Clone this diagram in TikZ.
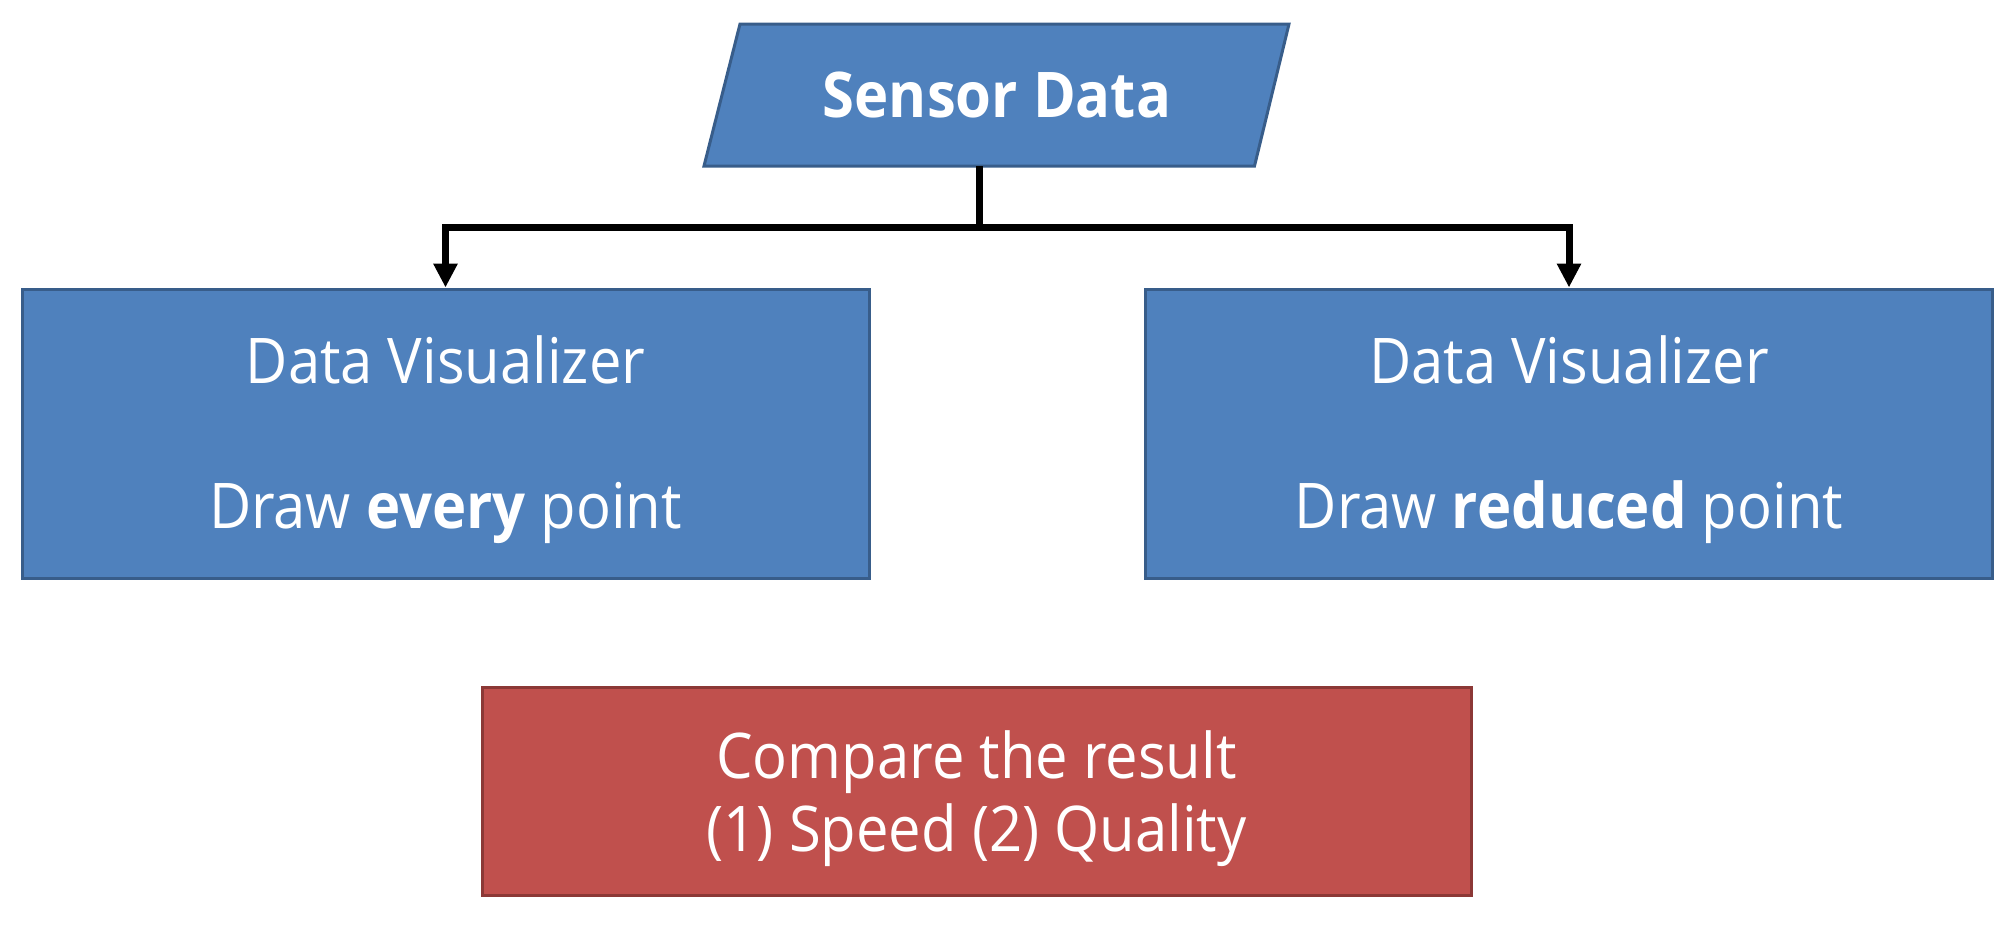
\documentclass[tikz,border=0pt]{standalone}
\usepackage{fontspec}
\setmainfont[FakeStretch=0.92]{Open Sans}
\usetikzlibrary{arrows.meta}
\definecolor{bfill}{HTML}{4F81BD}
\definecolor{bline}{HTML}{385D8A}
\definecolor{rfill}{HTML}{C0504D}
\definecolor{rline}{HTML}{8C3836}
\tikzset{
  bluebox/.style={draw=bline, fill=bfill, line width=3pt, rectangle, inner sep=0pt},
  redbox/.style={draw=rline, fill=rfill, line width=3pt, rectangle, inner sep=0pt},
  txt/.style={text=white, anchor=base, inner sep=0pt, font=\fontsize{63}{76}\selectfont},
  conn/.style={draw=black, line width=7pt, line join=miter},
  arr/.style={conn, -{Triangle[width=23pt,length=24pt]}},
}
\begin{document}
\begin{tikzpicture}[x=1pt,y=-1pt]
\useasboundingbox (0,0) rectangle (2016,924);
% Sensor Data parallelogram
\path[draw=bline, fill=bfill, line width=3pt] (740,24) -- (1289,24) -- (1254.5,166) -- (704,166) -- cycle;
\node[txt, font=\fontsize{63}{76}\selectfont\bfseries] (sd) at (997,117) {Sensor Data};
\coordinate (sdb) at (979.3,166);
\coordinate (jn) at (979.3,227);
% boxes
\node[bluebox, minimum width=847pt, minimum height=289pt] (vl) at (445.5,433.5) {};
\node[bluebox, minimum width=847pt, minimum height=289pt] (vr) at (1569,433.5) {};
\node[redbox, minimum width=989pt, minimum height=208pt] (cmp) at (976.5,791) {};
% texts
\node[txt] (vl1) at (445.5,383) {Data Visualizer};
\node[txt] (vl2) at (445.5,528) {Draw \textbf{every} point};
\node[txt] (vr1) at (1569,383) {Data Visualizer};
\node[txt] (vr2) at (1569,528) {Draw \textbf{reduced} point};
\node[txt] (c1) at (976.5,778) {Compare the result};
\node[txt] (c2) at (976.5,851) {(1) Speed (2) Quality};
% connectors
\draw[conn] (sdb) -- (jn);
\draw[arr] (jn) -| (vl.north);
\draw[arr] (jn) -| (vr.north);
\end{tikzpicture}
\end{document}
